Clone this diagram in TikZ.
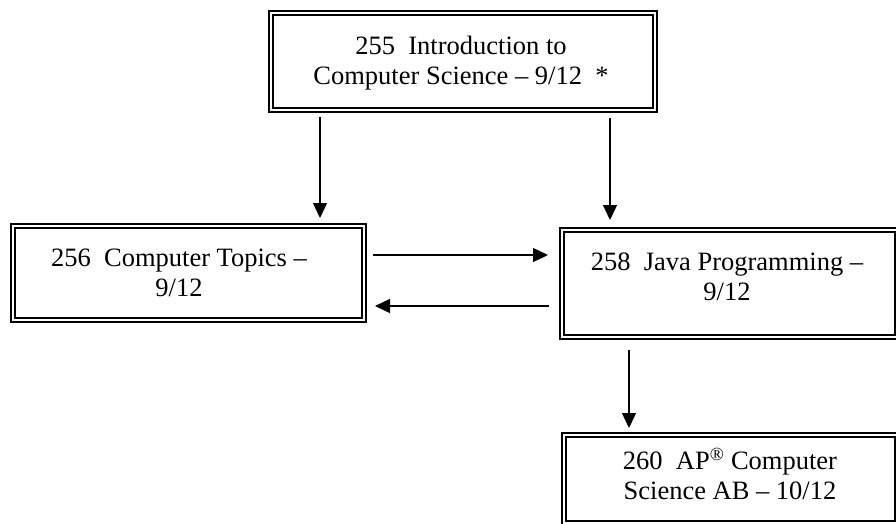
\documentclass[tikz,border=0pt]{standalone}
\usepackage{fontspec}
\setmainfont{Liberation Serif}
\usetikzlibrary{arrows.meta}
\tikzset {
    >={Triangle[length=15pt,width=14pt]},
    course/.style={draw, double, line width=1.8pt, double distance=2.4pt,
        outer sep=0pt, inner sep=0pt},
    coursetext/.style={align=center, inner sep=0pt,
        font=\fontsize{26.5}{30}\selectfont},
    link/.style={->, line width=1.3pt}
}

\begin{document}
\begin{tikzpicture}[x=1pt, y=-1pt]
    \useasboundingbox (0,0) rectangle (896,523);

    % course boxes
    \node[course, minimum width=384pt, minimum height=97pt] (intro) at (463,61.5) {};
    \node[course, minimum width=351pt, minimum height=94pt] (topics) at (188.5,273) {};
    \node[course, minimum width=335pt, minimum height=107pt] (java) at (729.5,283.5) {};
    \node[course, minimum width=333pt, minimum height=88pt] (apcs) at (730.5,479) {};

    % course names
    \node[coursetext] (intro-t) at (461,63) {255\ \ Introduction to\\Computer Science \textendash{} 9/12\ \ *};
    \node[coursetext] (topics-t) at (179,273) {256\ \ Computer Topics \textendash\\9/12};
    \node[coursetext] (java-t) at (727,277) {258\ \ Java Programming \textendash\\9/12};
    \node[coursetext] (apcs-t) at (730,474) {260\ \ AP\textsuperscript{\textregistered} Computer\\Science AB \textendash{} 10/12};

    \draw[link, shorten <=7pt, shorten >=8pt] (intro.south -| 320,0) -- (topics.north -| 320,0);
    \draw[link, shorten <=8pt, shorten >=10pt] (intro.south -| 610,0) -- (java.north -| 610,0);
    \draw[link, shorten <=9pt, shorten >=14pt] (topics.east |- 0,255) -- (java.west |- 0,255);
    \draw[link, shorten <=13pt, shorten >=11pt] (java.west |- 0,306) -- (topics.east |- 0,306);
    \draw[link, shorten <=13pt, shorten >=7pt] (java.south -| 629,0) -- (apcs.north -| 629,0);
\end{tikzpicture}
\end{document}
